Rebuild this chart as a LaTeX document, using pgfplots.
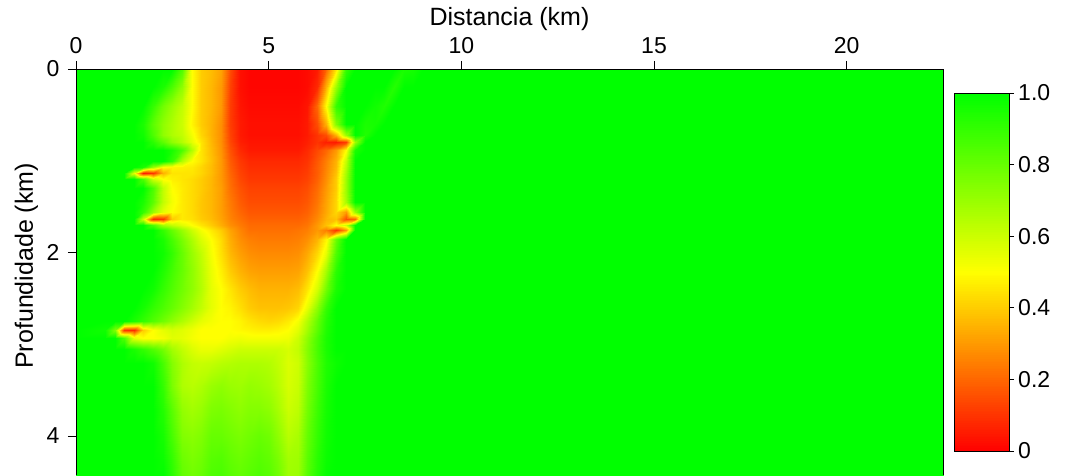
\documentclass[border=0pt]{standalone}
\usepackage{pgfplots}
\pgfplotsset{compat=1.18}
\usepackage{fontspec}
\setmainfont{Liberation Sans}
\begin{document}
\begin{tikzpicture}
\begin{axis}[
  name=ax,
  scale only axis,
  width=867pt, height=406pt,
  xmin=0, xmax=22.5, ymin=0, ymax=4.425,
  y dir=reverse,
  axis line style={draw=none},
  xtick={0,5,10,15,20}, ytick={0,2,4},
  xtick pos=right, xticklabel pos=right,
  ytick pos=left,
  tick align=outside,
  major tick length=8pt,
  tick style={black, line width=0.8pt},
  /pgf/number format/assume math mode=true,
  xticklabel style={font=\fontsize{23}{23}\selectfont, anchor=base, inner sep=0pt, yshift=7pt},
  yticklabel style={font=\fontsize{23}{23}\selectfont, anchor=east, inner sep=0pt, xshift=-8.5pt},
  xlabel={Distancia (km)}, ylabel={Profundidade (km)},
  xlabel style={font=\fontsize{25}{25}\selectfont, at={(axis description cs:0.5,1)}, anchor=base, inner sep=0pt, yshift=43pt},
  ylabel style={font=\fontsize{25}{25}\selectfont, at={(axis description cs:-0.0496,0.515)}, anchor=base, inner sep=0pt},
  colormap={ryg}{rgb255=(255,0,0) rgb255=(255,255,0) rgb255=(0,255,0)},
  point meta min=0, point meta max=1,
  colorbar sampled,
  colorbar shift/.style={},
  colorbar style={
    samples=201,
    scale only axis,
    width=55pt, height=358pt,
    at={(parent axis.north east)}, anchor=north west, xshift=11pt, yshift=-24pt,
    y dir=normal,
    ytick={0,0.2,0.4,0.6,0.8,1}, yticklabels={0,0.2,0.4,0.6,0.8,1.0},
    ytick pos=right, yticklabel pos=right,
    tick align=outside, major tick length=5pt,
    tick style={black, line width=0.8pt},
    axis line style={black, line width=0.8pt},
    yticklabel style={font=\fontsize{23}{23}\selectfont, anchor=west, inner sep=0pt, xshift=4pt},
  },
]
\addplot[surf, shader=interp, mesh/cols=36, point meta=explicit] coordinates {
(0,0)[1] (0.75,0)[1] (1,0)[1] (1.25,0)[1] (1.5,0)[1] (1.75,0)[1] (2,0)[1] (2.25,0)[1] (2.5,0)[1] (2.75,0)[0.85] (3,0)[0.5] (3.25,0)[0.4] (3.5,0)[0.37] (3.75,0)[0.32] (4,0)[0.15] (4.25,0)[0.03] (4.5,0)[0.01] (4.75,0)[0.01] (5,0)[0.01] (5.25,0)[0.01] (5.5,0)[0.01] (5.75,0)[0.01] (6,0)[0.02] (6.25,0)[0.05] (6.5,0)[0.2] (6.75,0)[0.45] (7,0)[0.9] (7.25,0)[1] (7.5,0)[1] (7.75,0)[1] (8,0)[1] (8.25,0)[1] (8.5,0)[0.95] (8.75,0)[0.96] (9,0)[1] (22.5,0)[1]
(0,0.2)[1] (0.75,0.2)[1] (1,0.2)[1] (1.25,0.2)[1] (1.5,0.2)[1] (1.75,0.2)[1] (2,0.2)[1] (2.25,0.2)[0.95] (2.5,0.2)[0.85] (2.75,0.2)[0.72] (3,0.2)[0.5] (3.25,0.2)[0.4] (3.5,0.2)[0.36] (3.75,0.2)[0.3] (4,0.2)[0.13] (4.25,0.2)[0.03] (4.5,0.2)[0.01] (4.75,0.2)[0.01] (5,0.2)[0.01] (5.25,0.2)[0.01] (5.5,0.2)[0.01] (5.75,0.2)[0.01] (6,0.2)[0.02] (6.25,0.2)[0.08] (6.5,0.2)[0.35] (6.75,0.2)[0.7] (7,0.2)[1] (7.25,0.2)[1] (7.5,0.2)[1] (7.75,0.2)[1] (8,0.2)[1] (8.25,0.2)[0.93] (8.5,0.2)[1] (8.75,0.2)[1] (9,0.2)[1] (22.5,0.2)[1]
(0,0.4)[1] (0.75,0.4)[1] (1,0.4)[1] (1.25,0.4)[1] (1.5,0.4)[1] (1.75,0.4)[1] (2,0.4)[0.9] (2.25,0.4)[0.78] (2.5,0.4)[0.7] (2.75,0.4)[0.62] (3,0.4)[0.5] (3.25,0.4)[0.4] (3.5,0.4)[0.36] (3.75,0.4)[0.3] (4,0.4)[0.12] (4.25,0.4)[0.04] (4.5,0.4)[0.02] (4.75,0.4)[0.02] (5,0.4)[0.02] (5.25,0.4)[0.02] (5.5,0.4)[0.02] (5.75,0.4)[0.02] (6,0.4)[0.04] (6.25,0.4)[0.2] (6.5,0.4)[0.5] (6.75,0.4)[0.9] (7,0.4)[1] (7.25,0.4)[1] (7.5,0.4)[1] (7.75,0.4)[0.97] (8,0.4)[0.94] (8.25,0.4)[1] (8.5,0.4)[1] (8.75,0.4)[1] (9,0.4)[1] (22.5,0.4)[1]
(0,0.6)[1] (0.75,0.6)[1] (1,0.6)[1] (1.25,0.6)[1] (1.5,0.6)[1] (1.75,0.6)[0.95] (2,0.6)[0.82] (2.25,0.6)[0.72] (2.5,0.6)[0.66] (2.75,0.6)[0.6] (3,0.6)[0.48] (3.25,0.6)[0.4] (3.5,0.6)[0.35] (3.75,0.6)[0.28] (4,0.6)[0.12] (4.25,0.6)[0.05] (4.5,0.6)[0.03] (4.75,0.6)[0.03] (5,0.6)[0.03] (5.25,0.6)[0.03] (5.5,0.6)[0.03] (5.75,0.6)[0.03] (6,0.6)[0.05] (6.25,0.6)[0.15] (6.5,0.6)[0.35] (6.75,0.6)[0.75] (7,0.6)[1] (7.25,0.6)[1] (7.5,0.6)[0.95] (7.75,0.6)[0.96] (8,0.6)[1] (8.25,0.6)[1] (8.5,0.6)[1] (8.75,0.6)[1] (9,0.6)[1] (22.5,0.6)[1]
(0,0.72)[1] (0.75,0.72)[1] (1,0.72)[1] (1.25,0.72)[1] (1.5,0.72)[1] (1.75,0.72)[0.97] (2,0.72)[0.85] (2.25,0.72)[0.72] (2.5,0.72)[0.66] (2.75,0.72)[0.62] (3,0.72)[0.52] (3.25,0.72)[0.42] (3.5,0.72)[0.35] (3.75,0.72)[0.28] (4,0.72)[0.13] (4.25,0.72)[0.05] (4.5,0.72)[0.03] (4.75,0.72)[0.03] (5,0.72)[0.03] (5.25,0.72)[0.03] (5.5,0.72)[0.03] (5.75,0.72)[0.03] (6,0.72)[0.05] (6.25,0.72)[0.1] (6.5,0.72)[0.15] (6.75,0.72)[0.35] (7,0.72)[0.7] (7.25,0.72)[1] (7.5,0.72)[0.94] (7.75,0.72)[1] (8,0.72)[1] (8.25,0.72)[1] (8.5,0.72)[1] (8.75,0.72)[1] (9,0.72)[1] (22.5,0.72)[1]
(0,0.8)[1] (0.75,0.8)[1] (1,0.8)[1] (1.25,0.8)[1] (1.5,0.8)[1] (1.75,0.8)[1] (2,0.8)[0.92] (2.25,0.8)[0.82] (2.5,0.8)[0.72] (2.75,0.8)[0.65] (3,0.8)[0.55] (3.25,0.8)[0.45] (3.5,0.8)[0.36] (3.75,0.8)[0.28] (4,0.8)[0.14] (4.25,0.8)[0.06] (4.5,0.8)[0.04] (4.75,0.8)[0.04] (5,0.8)[0.04] (5.25,0.8)[0.04] (5.5,0.8)[0.04] (5.75,0.8)[0.04] (6,0.8)[0.06] (6.25,0.8)[0.1] (6.5,0.8)[0.06] (6.75,0.8)[0.05] (7,0.8)[0.12] (7.25,0.8)[0.7] (7.5,0.8)[1] (7.75,0.8)[1] (8,0.8)[1] (8.25,0.8)[1] (8.5,0.8)[1] (8.75,0.8)[1] (9,0.8)[1] (22.5,0.8)[1]
(0,0.88)[1] (0.75,0.88)[1] (1,0.88)[1] (1.25,0.88)[1] (1.5,0.88)[1] (1.75,0.88)[1] (2,0.88)[1] (2.25,0.88)[1] (2.5,0.88)[0.95] (2.75,0.88)[0.85] (3,0.88)[0.65] (3.25,0.88)[0.45] (3.5,0.88)[0.37] (3.75,0.88)[0.29] (4,0.88)[0.16] (4.25,0.88)[0.08] (4.5,0.88)[0.05] (4.75,0.88)[0.05] (5,0.88)[0.05] (5.25,0.88)[0.05] (5.5,0.88)[0.05] (5.75,0.88)[0.05] (6,0.88)[0.08] (6.25,0.88)[0.14] (6.5,0.88)[0.2] (6.75,0.88)[0.3] (7,0.88)[0.5] (7.25,0.88)[0.95] (7.5,0.88)[1] (7.75,0.88)[1] (8,0.88)[1] (8.25,0.88)[1] (8.5,0.88)[1] (8.75,0.88)[1] (9,0.88)[1] (22.5,0.88)[1]
(0,1)[1] (0.75,1)[1] (1,1)[1] (1.25,1)[1] (1.5,1)[1] (1.75,1)[1] (2,1)[1] (2.25,1)[1] (2.5,1)[0.9] (2.75,1)[0.65] (3,1)[0.5] (3.25,1)[0.45] (3.5,1)[0.38] (3.75,1)[0.3] (4,1)[0.18] (4.25,1)[0.11] (4.5,1)[0.08] (4.75,1)[0.08] (5,1)[0.08] (5.25,1)[0.08] (5.5,1)[0.08] (5.75,1)[0.08] (6,1)[0.1] (6.25,1)[0.17] (6.5,1)[0.25] (6.75,1)[0.35] (7,1)[0.62] (7.25,1)[1] (7.5,1)[1] (7.75,1)[1] (8,1)[1] (8.25,1)[1] (8.5,1)[1] (8.75,1)[1] (9,1)[1] (22.5,1)[1]
(0,1.07)[1] (0.75,1.07)[1] (1,1.07)[1] (1.25,1.07)[1] (1.5,1.07)[1] (1.75,1.07)[0.95] (2,1.07)[0.7] (2.25,1.07)[0.5] (2.5,1.07)[0.48] (2.75,1.07)[0.47] (3,1.07)[0.46] (3.25,1.07)[0.42] (3.5,1.07)[0.37] (3.75,1.07)[0.3] (4,1.07)[0.19] (4.25,1.07)[0.12] (4.5,1.07)[0.09] (4.75,1.07)[0.09] (5,1.07)[0.09] (5.25,1.07)[0.09] (5.5,1.07)[0.09] (5.75,1.07)[0.09] (6,1.07)[0.11] (6.25,1.07)[0.18] (6.5,1.07)[0.26] (6.75,1.07)[0.36] (7,1.07)[0.65] (7.25,1.07)[1] (7.5,1.07)[1] (7.75,1.07)[1] (8,1.07)[1] (8.25,1.07)[1] (8.5,1.07)[1] (8.75,1.07)[1] (9,1.07)[1] (22.5,1.07)[1]
(0,1.13)[1] (0.75,1.13)[1] (1,1.13)[1] (1.25,1.13)[1] (1.5,1.13)[0.55] (1.75,1.13)[0.05] (2,1.13)[0.1] (2.25,1.13)[0.35] (2.5,1.13)[0.45] (2.75,1.13)[0.45] (3,1.13)[0.45] (3.25,1.13)[0.42] (3.5,1.13)[0.37] (3.75,1.13)[0.3] (4,1.13)[0.2] (4.25,1.13)[0.13] (4.5,1.13)[0.1] (4.75,1.13)[0.1] (5,1.13)[0.1] (5.25,1.13)[0.1] (5.5,1.13)[0.1] (5.75,1.13)[0.1] (6,1.13)[0.12] (6.25,1.13)[0.18] (6.5,1.13)[0.27] (6.75,1.13)[0.38] (7,1.13)[0.68] (7.25,1.13)[1] (7.5,1.13)[1] (7.75,1.13)[1] (8,1.13)[1] (8.25,1.13)[1] (8.5,1.13)[1] (8.75,1.13)[1] (9,1.13)[1] (22.5,1.13)[1]
(0,1.2)[1] (0.75,1.2)[1] (1,1.2)[1] (1.25,1.2)[1] (1.5,1.2)[1] (1.75,1.2)[0.85] (2,1.2)[0.6] (2.25,1.2)[0.5] (2.5,1.2)[0.47] (2.75,1.2)[0.45] (3,1.2)[0.43] (3.25,1.2)[0.4] (3.5,1.2)[0.36] (3.75,1.2)[0.3] (4,1.2)[0.21] (4.25,1.2)[0.14] (4.5,1.2)[0.11] (4.75,1.2)[0.11] (5,1.2)[0.11] (5.25,1.2)[0.11] (5.5,1.2)[0.11] (5.75,1.2)[0.11] (6,1.2)[0.13] (6.25,1.2)[0.19] (6.5,1.2)[0.28] (6.75,1.2)[0.4] (7,1.2)[0.7] (7.25,1.2)[1] (7.5,1.2)[1] (7.75,1.2)[1] (8,1.2)[1] (8.25,1.2)[1] (8.5,1.2)[1] (8.75,1.2)[1] (9,1.2)[1] (22.5,1.2)[1]
(0,1.3)[1] (0.75,1.3)[1] (1,1.3)[1] (1.25,1.3)[1] (1.5,1.3)[1] (1.75,1.3)[1] (2,1.3)[0.85] (2.25,1.3)[0.62] (2.5,1.3)[0.5] (2.75,1.3)[0.46] (3,1.3)[0.43] (3.25,1.3)[0.4] (3.5,1.3)[0.36] (3.75,1.3)[0.31] (4,1.3)[0.22] (4.25,1.3)[0.16] (4.5,1.3)[0.13] (4.75,1.3)[0.13] (5,1.3)[0.13] (5.25,1.3)[0.13] (5.5,1.3)[0.13] (5.75,1.3)[0.13] (6,1.3)[0.15] (6.25,1.3)[0.21] (6.5,1.3)[0.3] (6.75,1.3)[0.4] (7,1.3)[0.7] (7.25,1.3)[1] (7.5,1.3)[1] (7.75,1.3)[1] (8,1.3)[1] (8.25,1.3)[1] (8.5,1.3)[1] (8.75,1.3)[1] (9,1.3)[1] (22.5,1.3)[1]
(0,1.45)[1] (0.75,1.45)[1] (1,1.45)[1] (1.25,1.45)[1] (1.5,1.45)[1] (1.75,1.45)[0.95] (2,1.45)[0.82] (2.25,1.45)[0.62] (2.5,1.45)[0.52] (2.75,1.45)[0.46] (3,1.45)[0.43] (3.25,1.45)[0.39] (3.5,1.45)[0.36] (3.75,1.45)[0.31] (4,1.45)[0.24] (4.25,1.45)[0.18] (4.5,1.45)[0.15] (4.75,1.45)[0.15] (5,1.45)[0.15] (5.25,1.45)[0.15] (5.5,1.45)[0.15] (5.75,1.45)[0.15] (6,1.45)[0.17] (6.25,1.45)[0.23] (6.5,1.45)[0.32] (6.75,1.45)[0.42] (7,1.45)[0.68] (7.25,1.45)[1] (7.5,1.45)[1] (7.75,1.45)[1] (8,1.45)[1] (8.25,1.45)[1] (8.5,1.45)[1] (8.75,1.45)[1] (9,1.45)[1] (22.5,1.45)[1]
(0,1.56)[1] (0.75,1.56)[1] (1,1.56)[1] (1.25,1.56)[1] (1.5,1.56)[1] (1.75,1.56)[0.9] (2,1.56)[0.7] (2.25,1.56)[0.55] (2.5,1.56)[0.5] (2.75,1.56)[0.46] (3,1.56)[0.43] (3.25,1.56)[0.39] (3.5,1.56)[0.36] (3.75,1.56)[0.31] (4,1.56)[0.25] (4.25,1.56)[0.2] (4.5,1.56)[0.17] (4.75,1.56)[0.17] (5,1.56)[0.17] (5.25,1.56)[0.17] (5.5,1.56)[0.17] (5.75,1.56)[0.17] (6,1.56)[0.19] (6.25,1.56)[0.25] (6.5,1.56)[0.33] (6.75,1.56)[0.42] (7,1.56)[0.3] (7.25,1.56)[0.7] (7.5,1.56)[1] (7.75,1.56)[1] (8,1.56)[1] (8.25,1.56)[1] (8.5,1.56)[1] (8.75,1.56)[1] (9,1.56)[1] (22.5,1.56)[1]
(0,1.63)[1] (0.75,1.63)[1] (1,1.63)[1] (1.25,1.63)[1] (1.5,1.63)[1] (1.75,1.63)[0.6] (2,1.63)[0.08] (2.25,1.63)[0.1] (2.5,1.63)[0.4] (2.75,1.63)[0.46] (3,1.63)[0.44] (3.25,1.63)[0.4] (3.5,1.63)[0.37] (3.75,1.63)[0.32] (4,1.63)[0.26] (4.25,1.63)[0.22] (4.5,1.63)[0.19] (4.75,1.63)[0.19] (5,1.63)[0.19] (5.25,1.63)[0.19] (5.5,1.63)[0.19] (5.75,1.63)[0.19] (6,1.63)[0.21] (6.25,1.63)[0.27] (6.5,1.63)[0.35] (6.75,1.63)[0.38] (7,1.63)[0.15] (7.25,1.63)[0.2] (7.5,1.63)[1] (7.75,1.63)[1] (8,1.63)[1] (8.25,1.63)[1] (8.5,1.63)[1] (8.75,1.63)[1] (9,1.63)[1] (22.5,1.63)[1]
(0,1.7)[1] (0.75,1.7)[1] (1,1.7)[1] (1.25,1.7)[1] (1.5,1.7)[1] (1.75,1.7)[1] (2,1.7)[0.85] (2.25,1.7)[0.68] (2.5,1.7)[0.62] (2.75,1.7)[0.56] (3,1.7)[0.5] (3.25,1.7)[0.45] (3.5,1.7)[0.4] (3.75,1.7)[0.34] (4,1.7)[0.28] (4.25,1.7)[0.24] (4.5,1.7)[0.21] (4.75,1.7)[0.21] (5,1.7)[0.21] (5.25,1.7)[0.21] (5.5,1.7)[0.21] (5.75,1.7)[0.21] (6,1.7)[0.23] (6.25,1.7)[0.3] (6.5,1.7)[0.38] (6.75,1.7)[0.5] (7,1.7)[0.6] (7.25,1.7)[1] (7.5,1.7)[1] (7.75,1.7)[1] (8,1.7)[1] (8.25,1.7)[1] (8.5,1.7)[1] (8.75,1.7)[1] (9,1.7)[1] (22.5,1.7)[1]
(0,1.76)[1] (0.75,1.76)[1] (1,1.76)[1] (1.25,1.76)[1] (1.5,1.76)[1] (1.75,1.76)[1] (2,1.76)[1] (2.25,1.76)[0.9] (2.5,1.76)[0.8] (2.75,1.76)[0.7] (3,1.76)[0.6] (3.25,1.76)[0.52] (3.5,1.76)[0.46] (3.75,1.76)[0.4] (4,1.76)[0.32] (4.25,1.76)[0.26] (4.5,1.76)[0.22] (4.75,1.76)[0.22] (5,1.76)[0.22] (5.25,1.76)[0.22] (5.5,1.76)[0.22] (5.75,1.76)[0.23] (6,1.76)[0.25] (6.25,1.76)[0.3] (6.5,1.76)[0.25] (6.75,1.76)[0.1] (7,1.76)[0.3] (7.25,1.76)[1] (7.5,1.76)[1] (7.75,1.76)[1] (8,1.76)[1] (8.25,1.76)[1] (8.5,1.76)[1] (8.75,1.76)[1] (9,1.76)[1] (22.5,1.76)[1]
(0,1.85)[1] (0.75,1.85)[1] (1,1.85)[1] (1.25,1.85)[1] (1.5,1.85)[1] (1.75,1.85)[1] (2,1.85)[1] (2.25,1.85)[0.95] (2.5,1.85)[0.86] (2.75,1.85)[0.76] (3,1.85)[0.66] (3.25,1.85)[0.57] (3.5,1.85)[0.5] (3.75,1.85)[0.43] (4,1.85)[0.34] (4.25,1.85)[0.28] (4.5,1.85)[0.25] (4.75,1.85)[0.24] (5,1.85)[0.24] (5.25,1.85)[0.24] (5.5,1.85)[0.24] (5.75,1.85)[0.25] (6,1.85)[0.28] (6.25,1.85)[0.35] (6.5,1.85)[0.48] (6.75,1.85)[0.8] (7,1.85)[1] (7.25,1.85)[1] (7.5,1.85)[1] (7.75,1.85)[1] (8,1.85)[1] (8.25,1.85)[1] (8.5,1.85)[1] (8.75,1.85)[1] (9,1.85)[1] (22.5,1.85)[1]
(0,2)[1] (0.75,2)[1] (1,2)[1] (1.25,2)[1] (1.5,2)[1] (1.75,2)[1] (2,2)[1] (2.25,2)[0.97] (2.5,2)[0.9] (2.75,2)[0.8] (3,2)[0.7] (3.25,2)[0.62] (3.5,2)[0.52] (3.75,2)[0.44] (4,2)[0.36] (4.25,2)[0.31] (4.5,2)[0.28] (4.75,2)[0.27] (5,2)[0.27] (5.25,2)[0.27] (5.5,2)[0.27] (5.75,2)[0.28] (6,2)[0.33] (6.25,2)[0.42] (6.5,2)[0.55] (6.75,2)[0.85] (7,2)[1] (7.25,2)[1] (7.5,2)[1] (7.75,2)[1] (8,2)[1] (8.25,2)[1] (8.5,2)[1] (8.75,2)[1] (9,2)[1] (22.5,2)[1]
(0,2.2)[1] (0.75,2.2)[1] (1,2.2)[1] (1.25,2.2)[1] (1.5,2.2)[1] (1.75,2.2)[1] (2,2.2)[1] (2.25,2.2)[0.94] (2.5,2.2)[0.87] (2.75,2.2)[0.8] (3,2.2)[0.72] (3.25,2.2)[0.64] (3.5,2.2)[0.54] (3.75,2.2)[0.47] (4,2.2)[0.4] (4.25,2.2)[0.35] (4.5,2.2)[0.32] (4.75,2.2)[0.31] (5,2.2)[0.31] (5.25,2.2)[0.31] (5.5,2.2)[0.31] (5.75,2.2)[0.32] (6,2.2)[0.38] (6.25,2.2)[0.5] (6.5,2.2)[0.68] (6.75,2.2)[0.92] (7,2.2)[1] (7.25,2.2)[1] (7.5,2.2)[1] (7.75,2.2)[1] (8,2.2)[1] (8.25,2.2)[1] (8.5,2.2)[1] (8.75,2.2)[1] (9,2.2)[1] (22.5,2.2)[1]
(0,2.4)[1] (0.75,2.4)[1] (1,2.4)[1] (1.25,2.4)[1] (1.5,2.4)[1] (1.75,2.4)[1] (2,2.4)[0.97] (2.25,2.4)[0.9] (2.5,2.4)[0.84] (2.75,2.4)[0.78] (3,2.4)[0.72] (3.25,2.4)[0.65] (3.5,2.4)[0.55] (3.75,2.4)[0.5] (4,2.4)[0.45] (4.25,2.4)[0.4] (4.5,2.4)[0.37] (4.75,2.4)[0.35] (5,2.4)[0.35] (5.25,2.4)[0.35] (5.5,2.4)[0.35] (5.75,2.4)[0.37] (6,2.4)[0.45] (6.25,2.4)[0.58] (6.5,2.4)[0.78] (6.75,2.4)[0.95] (7,2.4)[1] (7.25,2.4)[1] (7.5,2.4)[1] (7.75,2.4)[1] (8,2.4)[1] (8.25,2.4)[1] (8.5,2.4)[1] (8.75,2.4)[1] (9,2.4)[1] (22.5,2.4)[1]
(0,2.6)[1] (0.75,2.6)[1] (1,2.6)[1] (1.25,2.6)[1] (1.5,2.6)[1] (1.75,2.6)[0.96] (2,2.6)[0.9] (2.25,2.6)[0.85] (2.5,2.6)[0.8] (2.75,2.6)[0.74] (3,2.6)[0.68] (3.25,2.6)[0.62] (3.5,2.6)[0.55] (3.75,2.6)[0.5] (4,2.6)[0.48] (4.25,2.6)[0.44] (4.5,2.6)[0.4] (4.75,2.6)[0.38] (5,2.6)[0.38] (5.25,2.6)[0.38] (5.5,2.6)[0.39] (5.75,2.6)[0.42] (6,2.6)[0.55] (6.25,2.6)[0.72] (6.5,2.6)[0.9] (6.75,2.6)[1] (7,2.6)[1] (7.25,2.6)[1] (7.5,2.6)[1] (7.75,2.6)[1] (8,2.6)[1] (8.25,2.6)[1] (8.5,2.6)[1] (8.75,2.6)[1] (9,2.6)[1] (22.5,2.6)[1]
(0,2.75)[1] (0.75,2.75)[1] (1,2.75)[1] (1.25,2.75)[1] (1.5,2.75)[0.95] (1.75,2.75)[0.9] (2,2.75)[0.84] (2.25,2.75)[0.78] (2.5,2.75)[0.72] (2.75,2.75)[0.66] (3,2.75)[0.6] (3.25,2.75)[0.55] (3.5,2.75)[0.52] (3.75,2.75)[0.5] (4,2.75)[0.5] (4.25,2.75)[0.48] (4.5,2.75)[0.45] (4.75,2.75)[0.43] (5,2.75)[0.42] (5.25,2.75)[0.43] (5.5,2.75)[0.46] (5.75,2.75)[0.52] (6,2.75)[0.65] (6.25,2.75)[0.8] (6.5,2.75)[0.93] (6.75,2.75)[1] (7,2.75)[1] (7.25,2.75)[1] (7.5,2.75)[1] (7.75,2.75)[1] (8,2.75)[1] (8.25,2.75)[1] (8.5,2.75)[1] (8.75,2.75)[1] (9,2.75)[1] (22.5,2.75)[1]
(0,2.85)[1] (0.75,2.85)[0.97] (1,2.85)[0.75] (1.25,2.85)[0.1] (1.5,2.85)[0.08] (1.75,2.85)[0.4] (2,2.85)[0.5] (2.25,2.85)[0.55] (2.5,2.85)[0.58] (2.75,2.85)[0.56] (3,2.85)[0.53] (3.25,2.85)[0.5] (3.5,2.85)[0.5] (3.75,2.85)[0.5] (4,2.85)[0.5] (4.25,2.85)[0.49] (4.5,2.85)[0.48] (4.75,2.85)[0.47] (5,2.85)[0.47] (5.25,2.85)[0.48] (5.5,2.85)[0.5] (5.75,2.85)[0.56] (6,2.85)[0.68] (6.25,2.85)[0.82] (6.5,2.85)[0.94] (6.75,2.85)[1] (7,2.85)[1] (7.25,2.85)[1] (7.5,2.85)[1] (7.75,2.85)[1] (8,2.85)[1] (8.25,2.85)[1] (8.5,2.85)[1] (8.75,2.85)[1] (9,2.85)[1] (22.5,2.85)[1]
(0,2.93)[1] (0.75,2.93)[1] (1,2.93)[1] (1.25,2.93)[0.85] (1.5,2.93)[0.55] (1.75,2.93)[0.5] (2,2.93)[0.5] (2.25,2.93)[0.52] (2.5,2.93)[0.56] (2.75,2.93)[0.55] (3,2.93)[0.52] (3.25,2.93)[0.5] (3.5,2.93)[0.5] (3.75,2.93)[0.5] (4,2.93)[0.52] (4.25,2.93)[0.53] (4.5,2.93)[0.52] (4.75,2.93)[0.52] (5,2.93)[0.52] (5.25,2.93)[0.52] (5.5,2.93)[0.53] (5.75,2.93)[0.6] (6,2.93)[0.72] (6.25,2.93)[0.85] (6.5,2.93)[0.95] (6.75,2.93)[1] (7,2.93)[1] (7.25,2.93)[1] (7.5,2.93)[1] (7.75,2.93)[1] (8,2.93)[1] (8.25,2.93)[1] (8.5,2.93)[1] (8.75,2.93)[1] (9,2.93)[1] (22.5,2.93)[1]
(0,3.05)[1] (0.75,3.05)[1] (1,3.05)[1] (1.25,3.05)[1] (1.5,3.05)[0.95] (1.75,3.05)[0.9] (2,3.05)[0.84] (2.25,3.05)[0.77] (2.5,3.05)[0.68] (2.75,3.05)[0.62] (3,3.05)[0.57] (3.25,3.05)[0.54] (3.5,3.05)[0.54] (3.75,3.05)[0.56] (4,3.05)[0.58] (4.25,3.05)[0.6] (4.5,3.05)[0.6] (4.75,3.05)[0.6] (5,3.05)[0.6] (5.25,3.05)[0.6] (5.5,3.05)[0.58] (5.75,3.05)[0.62] (6,3.05)[0.74] (6.25,3.05)[0.86] (6.5,3.05)[0.95] (6.75,3.05)[1] (7,3.05)[1] (7.25,3.05)[1] (7.5,3.05)[1] (7.75,3.05)[1] (8,3.05)[1] (8.25,3.05)[1] (8.5,3.05)[1] (8.75,3.05)[1] (9,3.05)[1] (22.5,3.05)[1]
(0,3.2)[1] (0.75,3.2)[1] (1,3.2)[1] (1.25,3.2)[1] (1.5,3.2)[1] (1.75,3.2)[1] (2,3.2)[0.97] (2.25,3.2)[0.86] (2.5,3.2)[0.74] (2.75,3.2)[0.66] (3,3.2)[0.62] (3.25,3.2)[0.61] (3.5,3.2)[0.62] (3.75,3.2)[0.64] (4,3.2)[0.65] (4.25,3.2)[0.66] (4.5,3.2)[0.66] (4.75,3.2)[0.66] (5,3.2)[0.65] (5.25,3.2)[0.62] (5.5,3.2)[0.57] (5.75,3.2)[0.6] (6,3.2)[0.73] (6.25,3.2)[0.85] (6.5,3.2)[0.94] (6.75,3.2)[0.98] (7,3.2)[1] (7.25,3.2)[1] (7.5,3.2)[1] (7.75,3.2)[1] (8,3.2)[1] (8.25,3.2)[1] (8.5,3.2)[1] (8.75,3.2)[1] (9,3.2)[1] (22.5,3.2)[1]
(0,3.45)[1] (0.75,3.45)[1] (1,3.45)[1] (1.25,3.45)[1] (1.5,3.45)[1] (1.75,3.45)[1] (2,3.45)[1] (2.25,3.45)[0.9] (2.5,3.45)[0.76] (2.75,3.45)[0.66] (3,3.45)[0.64] (3.25,3.45)[0.66] (3.5,3.45)[0.7] (3.75,3.45)[0.72] (4,3.45)[0.7] (4.25,3.45)[0.69] (4.5,3.45)[0.71] (4.75,3.45)[0.7] (5,3.45)[0.68] (5.25,3.45)[0.64] (5.5,3.45)[0.58] (5.75,3.45)[0.61] (6,3.45)[0.75] (6.25,3.45)[0.86] (6.5,3.45)[0.95] (6.75,3.45)[1] (7,3.45)[1] (7.25,3.45)[1] (7.5,3.45)[1] (7.75,3.45)[1] (8,3.45)[1] (8.25,3.45)[1] (8.5,3.45)[1] (8.75,3.45)[1] (9,3.45)[1] (22.5,3.45)[1]
(0,3.7)[1] (0.75,3.7)[1] (1,3.7)[1] (1.25,3.7)[1] (1.5,3.7)[1] (1.75,3.7)[1] (2,3.7)[1] (2.25,3.7)[0.93] (2.5,3.7)[0.82] (2.75,3.7)[0.71] (3,3.7)[0.68] (3.25,3.7)[0.7] (3.5,3.7)[0.75] (3.75,3.7)[0.76] (4,3.7)[0.74] (4.25,3.7)[0.72] (4.5,3.7)[0.74] (4.75,3.7)[0.74] (5,3.7)[0.72] (5.25,3.7)[0.67] (5.5,3.7)[0.6] (5.75,3.7)[0.63] (6,3.7)[0.77] (6.25,3.7)[0.88] (6.5,3.7)[0.96] (6.75,3.7)[1] (7,3.7)[1] (7.25,3.7)[1] (7.5,3.7)[1] (7.75,3.7)[1] (8,3.7)[1] (8.25,3.7)[1] (8.5,3.7)[1] (8.75,3.7)[1] (9,3.7)[1] (22.5,3.7)[1]
(0,4)[1] (0.75,4)[1] (1,4)[1] (1.25,4)[1] (1.5,4)[1] (1.75,4)[1] (2,4)[1] (2.25,4)[0.96] (2.5,4)[0.86] (2.75,4)[0.75] (3,4)[0.73] (3.25,4)[0.75] (3.5,4)[0.8] (3.75,4)[0.8] (4,4)[0.78] (4.25,4)[0.76] (4.5,4)[0.78] (4.75,4)[0.8] (5,4)[0.78] (5.25,4)[0.72] (5.5,4)[0.64] (5.75,4)[0.67] (6,4)[0.8] (6.25,4)[0.9] (6.5,4)[0.97] (6.75,4)[1] (7,4)[1] (7.25,4)[1] (7.5,4)[1] (7.75,4)[1] (8,4)[1] (8.25,4)[1] (8.5,4)[1] (8.75,4)[1] (9,4)[1] (22.5,4)[1]
(0,4.25)[1] (0.75,4.25)[1] (1,4.25)[1] (1.25,4.25)[1] (1.5,4.25)[1] (1.75,4.25)[1] (2,4.25)[1] (2.25,4.25)[0.98] (2.5,4.25)[0.9] (2.75,4.25)[0.79] (3,4.25)[0.76] (3.25,4.25)[0.78] (3.5,4.25)[0.83] (3.75,4.25)[0.84] (4,4.25)[0.81] (4.25,4.25)[0.79] (4.5,4.25)[0.81] (4.75,4.25)[0.83] (5,4.25)[0.81] (5.25,4.25)[0.76] (5.5,4.25)[0.68] (5.75,4.25)[0.69] (6,4.25)[0.82] (6.25,4.25)[0.92] (6.5,4.25)[0.98] (6.75,4.25)[1] (7,4.25)[1] (7.25,4.25)[1] (7.5,4.25)[1] (7.75,4.25)[1] (8,4.25)[1] (8.25,4.25)[1] (8.5,4.25)[1] (8.75,4.25)[1] (9,4.25)[1] (22.5,4.25)[1]
(0,4.45)[1] (0.75,4.45)[1] (1,4.45)[1] (1.25,4.45)[1] (1.5,4.45)[1] (1.75,4.45)[1] (2,4.45)[1] (2.25,4.45)[1] (2.5,4.45)[0.92] (2.75,4.45)[0.81] (3,4.45)[0.78] (3.25,4.45)[0.8] (3.5,4.45)[0.85] (3.75,4.45)[0.86] (4,4.45)[0.83] (4.25,4.45)[0.81] (4.5,4.45)[0.83] (4.75,4.45)[0.85] (5,4.45)[0.83] (5.25,4.45)[0.78] (5.5,4.45)[0.69] (5.75,4.45)[0.7] (6,4.45)[0.83] (6.25,4.45)[0.93] (6.5,4.45)[0.99] (6.75,4.45)[1] (7,4.45)[1] (7.25,4.45)[1] (7.5,4.45)[1] (7.75,4.45)[1] (8,4.45)[1] (8.25,4.45)[1] (8.5,4.45)[1] (8.75,4.45)[1] (9,4.45)[1] (22.5,4.45)[1]
};
\end{axis}
\draw[line width=0.8pt] (ax.south west) -- (ax.north west) -- (ax.north east) -- (ax.south east);
\path (ax.north west) ++(-76pt,69pt);
\path (ax.north west) ++(989pt,-406pt);
\end{tikzpicture}
\end{document}
